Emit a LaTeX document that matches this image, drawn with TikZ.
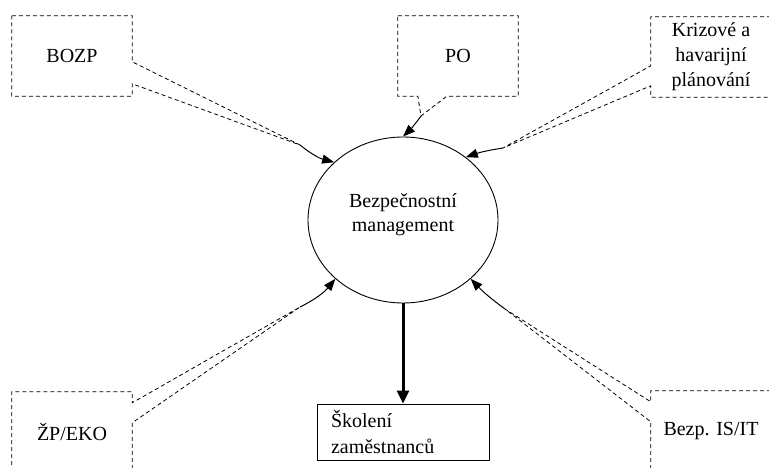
\documentclass[tikz,border=0pt]{standalone}
\usepackage{fontspec}
\setmainfont{Liberation Serif}
\usetikzlibrary{shapes.geometric,arrows.meta,calc}
\begin{document}
\begin{tikzpicture}[x=1pt,y=-1pt,
  txt/.style={minimum width=120pt,minimum height=80pt,inner sep=0pt,align=center,font=\fontsize{20}{25}\selectfont},
  callout/.style={draw=black,line width=0.8pt,dash pattern=on 4pt off 3pt},
  arr/.style={draw=black,line width=1pt,-{Triangle[length=12pt,width=9pt]}}]
\useasboundingbox (0,0) rectangle (769,468);
\clip (0,0) rectangle (769,468);
\fill[white] (0,0) rectangle (769,468);
% central ellipse
\node[draw,ellipse,line width=0.9pt,minimum width=190pt,minimum height=166pt,inner sep=0pt] (bm) at (403,220) {};
\node[align=center,font=\fontsize{20}{24}\selectfont] (bmt) at (403,215) {Bezpečnostní\\management};
% callout texts
\node[txt] (b) at (72,56) {BOZP};
\node[txt] (p) at (458,56) {PO};
\node[txt] (k) at (711,57) {Krizové a\\havarijní\\plánování};
\node[txt] (z) at (72,432) {ŽP/EKO};
\node[txt] (i) at (711,431) {Bezp. IS/IT};
% tips
\coordinate (bt) at (300,145);
\coordinate (pt) at (421,116);
\coordinate (kt) at (503,148);
\coordinate (zt) at (300,307);
\coordinate (it) at (505,309);
% callout outlines
\draw[callout] (b.north west) -- (b.north east) -- ($(b.north east)+(0,46)$) -- (bt) -- ($(b.north east)+(0,68)$) -- (b.south east) -- (b.south west) -- cycle;
\draw[callout] (p.north west) -- (p.north east) -- (p.south east) -- ($(p.south west)+(49,0)$) -- (pt) -- ($(p.south west)+(20,0)$) -- (p.south west) -- cycle;
\draw[callout] (k.north east) -- (k.north west) -- ($(k.north west)+(0,49)$) -- (kt) -- ($(k.north west)+(0,69)$) -- (k.south west) -- (k.south east) -- cycle;
\draw[callout] (z.south west) -- (z.north west) -- (z.north east) -- ($(z.north east)+(0,11)$) -- (zt) -- ($(z.north east)+(0,31)$) -- (z.south east);
\draw[callout] (i.north east) -- (i.north west) -- ($(i.north west)+(0,11)$) -- (it) -- ($(i.north west)+(0,31)$) -- (i.south west);
% arrows into ellipse
\draw[arr] (bt) to[bend right=12] (bm.140);
\draw[arr] (pt) to[bend left=5] (bm.90);
\draw[arr] (kt) to[bend right=5] (bm.45);
\draw[arr] (zt) to[bend right=12] (bm.221);
\draw[arr] (it) to[bend left=5] (bm.319);
% training box
\node[draw,line width=0.9pt,minimum height=56pt,text width=144pt,inner xsep=14pt,inner ysep=0pt,align=left,font=\fontsize{20}{26}\selectfont] (s) at (403,432) {Školení\\zaměstnanců};
\draw[line width=3pt,-{Triangle[length=13pt,width=12pt]}] (bm.south) -- (s.north);
\end{tikzpicture}
\end{document}
